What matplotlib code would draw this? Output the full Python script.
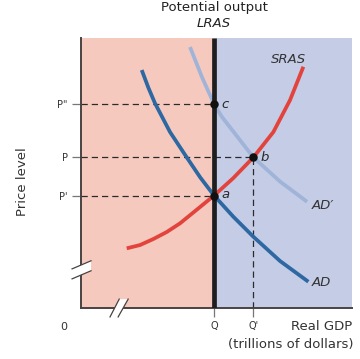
import matplotlib
matplotlib.use("Agg")
from matplotlib import pyplot as plt
from matplotlib.patches import Polygon

# levels (axis units 0..10)
Q = 4.908
Q2 = 6.358
P_lo = 4.167
P_mid = 5.581
P_hi = 7.556

ad_x = [2.240, 2.483, 2.731, 3.284, 3.900, 4.402, 4.908, 5.620, 6.358, 7.343, 8.387]
ad_y = [8.815, 8.167, 7.581, 6.519, 5.581, 4.833, 4.167, 3.381, 2.641, 1.741, 0.974]

ad2_x = [4.022, 4.454, 4.908, 5.203, 5.620, 6.358, 7.343, 8.339]
ad2_y = [9.667, 8.574, 7.556, 7.074, 6.537, 5.581, 4.685, 3.937]

sras_x = [1.686, 2.177, 2.668, 3.162, 3.653, 4.391, 4.908, 5.620, 6.358, 7.096, 7.712, 8.203]
sras_y = [2.211, 2.333, 2.556, 2.815, 3.137, 3.741, 4.167, 4.815, 5.581, 6.519, 7.704, 8.937]

ytick_labels = ['P\'', 'P', 'P"']
xtick_labels = ['Q', "Q'"]

pink = '#f6c9bf'
blue = '#c4cce6'
dark_blue = '#2d68a3'
light_blue = '#9fb4d8'
red = '#e2443d'
grey = '#4a4242'

fig = plt.figure(figsize=(3.6, 3.59), dpi=100)
ax = fig.add_axes([0.225, 0.142, 0.753, 0.752])
ax.set_xlim(0, 10)
ax.set_ylim(0, 10)

ax.axvspan(0, Q, color=pink, lw=0, zorder=0)
ax.axvspan(Q, 10, color=blue, lw=0, zorder=0)

for s in ['top', 'right']:
    ax.spines[s].set_visible(False)
for s in ['left', 'bottom']:
    ax.spines[s].set_color(grey)
    ax.spines[s].set_linewidth(1.4)

dash = (0, (5, 3.2))
for p, qx in [(P_hi, Q), (P_mid, Q2), (P_lo, Q)]:
    ax.plot([0, qx], [p, p], color='#2a2a2a', lw=0.9, ls=dash, zorder=2)
ax.plot([Q2, Q2], [0, P_mid], color='#2a2a2a', lw=0.9, ls=dash, zorder=2)

curve = dict(lw=2.7, solid_capstyle='butt', solid_joinstyle='round', zorder=3)
ax.plot(ad2_x, ad2_y, color=light_blue, **curve)
ax.plot(ad_x, ad_y, color=dark_blue, **curve)
ax.plot(sras_x, sras_y, color=red, **curve)
ax.plot([Q, Q], [0, 10], color='#1e1e1e', lw=3.4, solid_capstyle='butt', zorder=4)

ax.scatter([Q, Q2, Q], [P_hi, P_mid, P_lo], s=26, color='#111111', zorder=5)
it = dict(fontsize=9.5, style='italic', color='#2a2a2a', va='center')
ax.text(Q + 0.28, P_hi, 'c', **it)
ax.text(Q2 + 0.28, P_mid, 'b', **it)
ax.text(Q + 0.28, P_lo + 0.05, 'a', **it)

lab = dict(fontsize=9.5, style='italic', color='#333333', va='center')
ax.text(7.0, 9.2, 'SRAS', **lab)
ax.text(8.52, 3.8, 'AD\u2032', **lab)
ax.text(8.52, 0.96, 'AD', **lab)

ax.set_yticks([P_lo, P_mid, P_hi])
ax.set_yticklabels(ytick_labels)
ax.set_xticks([Q, Q2])
ax.set_xticklabels(xtick_labels)
ax.tick_params(axis='both', length=6.5, width=0.9, color='#777777',
               labelsize=7, labelcolor='#333333', pad=3)

# axis breaks
ax.add_patch(Polygon([[-0.33, 1.45], [0.37, 1.75], [0.37, 1.38], [-0.33, 1.08]],
                     closed=True, color='white', lw=0, clip_on=False, zorder=6))
ax.plot([-0.33, 0.37], [1.45, 1.75], color=grey, lw=0.9, clip_on=False, zorder=7)
ax.plot([-0.33, 0.37], [1.08, 1.38], color=grey, lw=0.9, clip_on=False, zorder=7)
ax.add_patch(Polygon([[1.07, -0.33], [1.41, 0.33], [1.74, 0.33], [1.37, -0.33]],
                     closed=True, color='white', lw=0, clip_on=False, zorder=6))
ax.plot([1.07, 1.41], [-0.33, 0.33], color=grey, lw=0.9, clip_on=False, zorder=7)
ax.plot([1.37, 1.74], [-0.33, 0.33], color=grey, lw=0.9, clip_on=False, zorder=7)

ax.text(-0.65, -0.7, '0', fontsize=8, color='#333333', ha='center', va='center')
ax.text(10.0, -0.7, 'Real GDP', fontsize=9.5, color='#333333', ha='right', va='center')
ax.text(10.05, -1.35, '(trillions of dollars)', fontsize=9.5, color='#333333',
        ha='right', va='center')
ax.text(Q, 11.15, 'Potential output', fontsize=9.5, color='#222222', ha='center', va='center')
ax.text(Q, 10.55, 'LRAS', fontsize=9.5, style='italic', color='#222222',
        ha='center', va='center')
ax.text(-2.15, 4.7, 'Price level', fontsize=9.5, color='#333333', rotation=90,
        ha='center', va='center')

fig.savefig('out.png', dpi=100)
